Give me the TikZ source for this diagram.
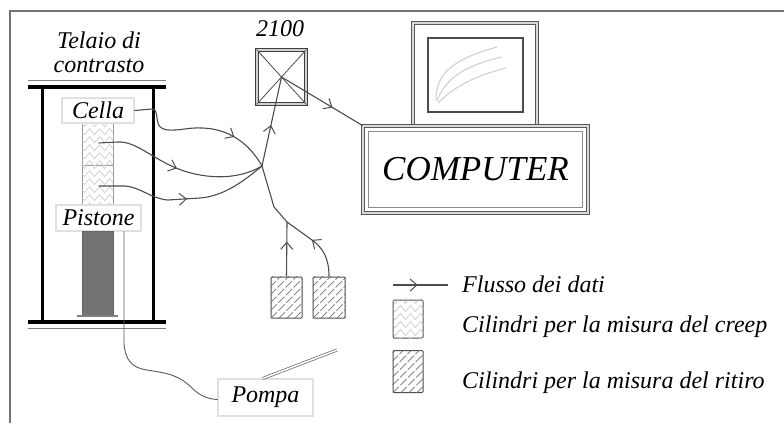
\documentclass[tikz,border=0pt]{standalone}
\usepackage{fontspec}
\setmainfont{Liberation Serif}
\usetikzlibrary{arrows.meta,decorations.markings,calc}

% light herringbone fill of the creep specimens
\newcommand\creephatch[1]{%
  \begin{scope}
    \clip (#1.south west) rectangle (#1.north east);
    \foreach \r in {-10,-2,...,50} {
      \draw[black!22, line width=0.6pt] ($(#1.north west)+(-2,\r)$)
        \foreach \c in {0,1,2,3} { -- ++(5,6) -- ++(5,-6) };
    }
  \end{scope}}

% diagonal dashed fill of the shrinkage specimens
\newcommand\ritirohatch[1]{%
  \begin{scope}
    \clip (#1.south west) rectangle (#1.north east);
    \foreach \k in {-48,-40,...,40}
      \draw[black!55, line width=0.7pt, dash pattern=on 9pt off 2pt]
        ($(#1.south west)+(\k,0)$) -- ++(50,-50);
  \end{scope}}

\begin{document}
\begin{tikzpicture}[x=1pt,y=-1pt,
  lbl/.style={font=\fontsize{24}{24}\selectfont\itshape, inner sep=0pt},
  wire/.style={draw=black!70, line width=1.1pt},
  dbox/.style={draw=black!70, line width=0.8pt, double=black!12,
               double distance=1.2pt, fill=white, inner sep=0pt},
  cyl/.style={draw=black!40, line width=0.8pt, inner sep=0pt},
  cylr/.style={draw=black!70, line width=1pt, rounded corners=1pt, inner sep=0pt},
  flowat/.style={postaction={decorate}, decoration={markings,
     mark=at position #1 with {\arrow{Straight Barb[length=7pt,width=12pt,line width=1pt]}}}},
]
\useasboundingbox (0,0) rectangle (784,423);

% outer frame
\draw[black!55, line width=2pt] (10,423) -- (10,11) -- (784,11);

% reaction frame
\draw[black!50, line width=1pt] (28,80) -- (166,80);
\draw[black, line width=4pt] (28,86.5) -- (166,86.5);
\draw[black, line width=3pt] (42,86) -- (42,322);
\draw[black, line width=3pt] (153,86) -- (153,322);
\draw[black, line width=4pt] (28,322) -- (166,322);
\draw[black!50, line width=1pt] (28,328) -- (166,328);

\node[lbl, anchor=base] (telaioA) at (99,48) {Telaio di};
\node[lbl, anchor=base] (telaioB) at (99,72) {contrasto};

% load cell, specimens, piston
\node[cyl, minimum width=31pt, minimum height=42pt] (creepA) at (97.5,144) {};
\node[cyl, minimum width=31pt, minimum height=40pt] (creepB) at (97.5,185) {};
\creephatch{creepA}
\creephatch{creepB}
\node[dbox, lbl, minimum width=72pt, minimum height=25pt] (cella) at (98,110.5) {Cella};
\node[dbox, lbl, minimum width=85pt, minimum height=26pt] (pistone) at (98.5,218) {Pistone};
\node[draw=black!60, fill=black!55, minimum width=31pt, minimum height=85pt, inner sep=0pt] (rod) at (97.5,273.5) {};
\draw[black!50, line width=1.5pt] ($(rod.south west)+(-5,0)$) -- ($(rod.south east)+(5,0)$);

% data logger
\node[lbl, anchor=base] (lab2100) at (280,36) {2100};
\node[draw=black!75, line width=0.8pt, double=black!18, double distance=2.5pt,
      minimum width=49pt, minimum height=54pt, inner sep=0pt] (dev) at (281.5,77) {};
\draw[black!70, line width=0.8pt] (dev.north west) -- (dev.south east)
                                  (dev.north east) -- (dev.south west);

% computer
\node[draw=black!65, line width=1pt, double=black!15, double distance=2pt,
      minimum width=124pt, minimum height=103pt, inner sep=0pt] (monitor) at (475,74.5) {};
\node[draw=black!70, line width=1.4pt, minimum width=95pt, minimum height=74pt, inner sep=0pt] (screen) at (475.5,75) {};
\draw[black!20, line width=1pt] (436,100) .. controls (436,75) and (450,60) .. (497,47);
\draw[black!20, line width=1pt] (437,101) .. controls (445,80) and (462,66) .. (502,57);
\draw[black!20, line width=1pt] (438,103) .. controls (455,86) and (475,76) .. (506,68);
\node[draw=black!65, line width=1pt, double=black!15, double distance=2.5pt, fill=white,
      minimum width=225pt, minimum height=87pt, inner sep=0pt,
      font=\fontsize{35}{35}\selectfont\itshape] (computer) at (475.5,169.5) {COMPUTER};
\draw[black!45, line width=0.7pt] ($(computer.north west)+(6,6)$) rectangle ($(computer.south east)+(-6,-6)$);

% shrinkage specimens
\node[cylr, minimum width=31pt, minimum height=41pt] (ritA) at (286.5,297.5) {};
\node[cylr, minimum width=32pt, minimum height=41pt] (ritB) at (329,297.5) {};
\ritirohatch{ritA}
\ritirohatch{ritB}

% pump
\node[dbox, lbl, minimum width=95pt, minimum height=37pt] (pompa) at (265.5,397.5) {Pompa};
\coordinate (hoseEnd) at (337,350);
\draw[black!60, line width=0.7pt, double=white, double distance=1.6pt]
  ($(pompa.north)+(-3,0)$) -- (hoseEnd);
\draw[black!65, line width=0.9pt] ($(pistone.south)+(25.5,0)$) -- (124,343)
  .. controls (125,360) and (132,368) .. (147,370)
  .. controls (165,373) and (178,374) .. (192,388)
  .. controls (200,396) and (208,399) .. ($(pompa.west)+(0,2)$);

% data flow
\coordinate (j1) at (262,166);
\coordinate (kink) at (274,207);
\coordinate (j2) at (287,222);

\draw[wire, flowat=0.74] (cella.east) -- (152,109)
  .. controls (158,109) and (156,118) .. (158,123)
  .. controls (160,131) and (170,131) .. (185,129)
  .. controls (218,124) and (245,136) .. (j1);
\draw[wire, flowat=0.49] ($(creepA.center)+(1,-1)$) -- (118,142)
  .. controls (135,141) and (152,158) .. (176,168)
  .. controls (200,178) and (235,182) .. (j1);
\draw[wire, flowat=0.52] ($(creepB.center)+(1,1)$) -- (125,186)
  .. controls (140,187) and (152,199) .. (168,200) -- (200,198)
  .. controls (225,196) and (245,180) .. (j1);
\draw[wire, flowat=0.46] (j1) -- (dev.center);
\draw[wire, flowat=0.63] (dev.center) -- (computer.north west);
\draw[wire] (j1) -- (kink) -- (j2);
\draw[wire, flowat=0.64] (ritA.north) -- (j2);
\draw[wire, flowat=0.58] (ritB.north) .. controls (329,258) and (323,248) .. (312,240) -- (j2);

% legend
\coordinate (legA) at (393,285);
\coordinate (legB) at (448,285);
\draw[wire, flowat=0.45] (legA) -- (legB);
\node[lbl, anchor=base west] (legflow) at (462,292) {Flusso dei dati};
\node[cylr, minimum width=30pt, minimum height=38pt] (legcreep) at (408,319) {};
\creephatch{legcreep}
\node[lbl, anchor=base west] (legcreeptxt) at (462,332) {Cilindri per la misura del creep};
\node[cylr, minimum width=30pt, minimum height=42pt] (legrit) at (408,371.5) {};
\ritirohatch{legrit}
\node[lbl, anchor=base west] (legrittxt) at (462,388) {Cilindri per la misura del ritiro};
\end{tikzpicture}
\end{document}
